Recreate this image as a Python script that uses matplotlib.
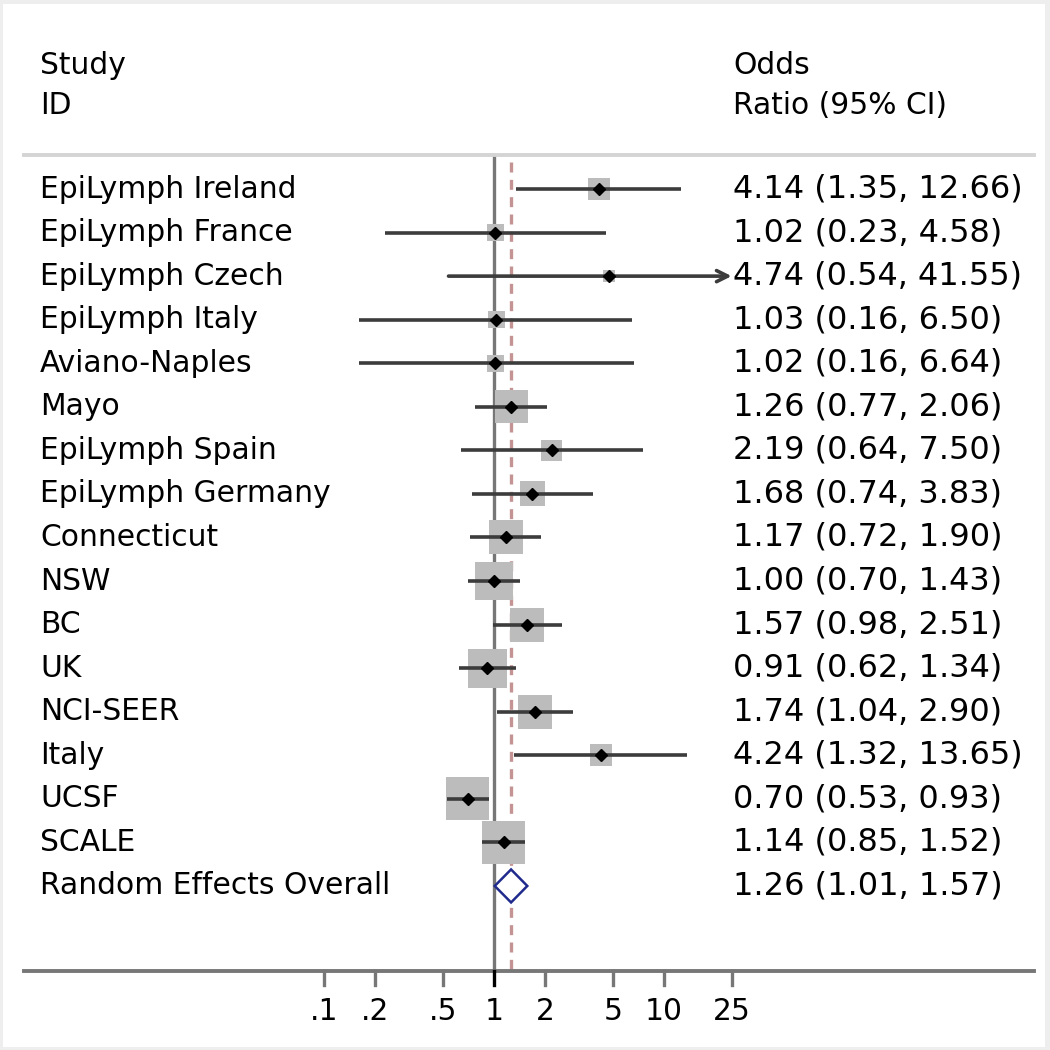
import matplotlib.pyplot as plt
import matplotlib.transforms as mtransforms
import numpy as np

# study data
studies = ["EpiLymph Ireland", "EpiLymph France", "EpiLymph Czech", "EpiLymph Italy",
           "Aviano-Naples", "Mayo", "EpiLymph Spain", "EpiLymph Germany", "Connecticut",
           "NSW", "BC", "UK", "NCI-SEER", "Italy", "UCSF", "SCALE"]
odds = [4.14, 1.02, 4.74, 1.03, 1.02, 1.26, 2.19, 1.68, 1.17, 1.00, 1.57, 0.91, 1.74, 4.24, 0.70, 1.14]
lower = [1.35, 0.23, 0.54, 0.16, 0.16, 0.77, 0.64, 0.74, 0.72, 0.70, 0.98, 0.62, 1.04, 1.32, 0.53, 0.85]
upper = [12.66, 4.58, 41.55, 6.50, 6.64, 2.06, 7.50, 3.83, 1.90, 1.43, 2.51, 1.34, 2.90, 13.65, 0.93, 1.52]
weights = [3.4, 2.0, 1.0, 2.0, 2.0, 7.6, 3.1, 4.4, 8.1, 10.1, 8.1, 10.7, 8.1, 3.4, 13.0, 13.0]

overall_label = "Random Effects Overall"
overall_or, overall_lo, overall_hi = 1.26, 1.01, 1.57

xticks = [0.1, 0.2, 0.5, 1, 2, 5, 10, 25]
xticklabels = [".1", ".2", ".5", "1", "2", "5", "10", "25"]
xmax_plot = 25

W = 1050
DPI = 100
fig = plt.figure(figsize=(W / DPI, W / DPI), dpi=DPI, facecolor="#eeeeee")

# white panel inset a few pixels
left_px, right_px, top_px, bot_px = 3, 1045, 4, 1047
ax = fig.add_axes([left_px / W, (W - bot_px) / W,
                   (right_px - left_px) / W, (bot_px - top_px) / W])
ax.set_facecolor("white")
for sp in ax.spines.values():
    sp.set_visible(False)
ax.tick_params(which="both", bottom=False, left=False, labelbottom=False, labelleft=False)

# pixel layout: x=1 at 494px, 170px per decade; first row at 189px, 43.56px per row
x0, dec = 494, 170
y0, step = 189, 43.56
ax.set_xscale("log")
ax.set_xlim(10 ** ((left_px - x0) / dec), 10 ** ((right_px - x0) / dec))
ax.set_ylim((bot_px - y0) / step, (top_px - y0) / step)
ax.minorticks_off()

def frac(px):
    return (px - left_px) / (right_px - left_px)

def row(px):
    return (px - y0) / step

FS = 21.4
FSV = 23.0
txt_tr = mtransforms.blended_transform_factory(ax.transAxes, ax.transData)

n = len(studies)
rows = np.arange(n)

# header
ax.text(frac(40), row(65), "Study", transform=txt_tr, fontsize=FS, va="center")
ax.text(frac(40), row(106), "ID", transform=txt_tr, fontsize=FS, va="center")
ax.text(frac(733), row(65), "Odds", transform=txt_tr, fontsize=FS, va="center")
ax.text(frac(733), row(106), "Ratio (95% CI)", transform=txt_tr, fontsize=FS, va="center")
ax.axhline(row(155), xmin=frac(24), xmax=frac(1034), color="#d4d4d4", lw=2.8)

axis_y = row(971)
# null line and overall effect line
ax.plot([1, 1], [row(155), axis_y], color="#777777", lw=2.4, zorder=1)
ax.plot([overall_or, overall_or], [row(162), axis_y], color="#c49494", lw=2.4,
        ls=(0, (3, 2.2)), zorder=1)

# study squares, CIs, points
side_px = 11.94 * np.sqrt(np.array(weights))
sizes = (side_px * 72 / DPI) ** 2
ax.scatter(odds, rows, s=sizes, marker="s", color="#bcbcbc", edgecolors="none", zorder=2)
for i in range(n):
    hi = min(upper[i], xmax_plot)
    if upper[i] > xmax_plot:
        ax.annotate("", xy=(hi, i), xytext=(lower[i], i),
                    arrowprops=dict(arrowstyle="->", color="#3c3c3c", lw=2.6,
                                    shrinkA=0, shrinkB=0, mutation_scale=20),
                    zorder=3)
    else:
        ax.plot([lower[i], hi], [i, i], color="#3c3c3c", lw=2.6, zorder=3,
                solid_capstyle="butt")
ax.plot(odds, rows, "D", color="black", ms=6.5, zorder=4)

# overall diamond
half_h = 16.5 / step
ax.fill([overall_lo, overall_or, overall_hi, overall_or],
        [n, n - half_h, n, n + half_h], facecolor="white",
        edgecolor="#1f2a8c", lw=1.8, zorder=4)

# labels
for i, name in enumerate(studies):
    ax.text(frac(40), i, name, transform=txt_tr, fontsize=FS, va="center")
    ax.text(frac(733), i, f"{odds[i]:.2f} ({lower[i]:.2f}, {upper[i]:.2f})",
            transform=txt_tr, fontsize=FSV, va="center")
ax.text(frac(40), n, overall_label, transform=txt_tr, fontsize=FS, va="center")
ax.text(frac(733), n, f"{overall_or:.2f} ({overall_lo:.2f}, {overall_hi:.2f})",
        transform=txt_tr, fontsize=FSV, va="center")

# x axis
ax.axhline(axis_y, xmin=frac(24), xmax=frac(1034), color="#777777", lw=2.8)
for t, lab in zip(xticks, xticklabels):
    ax.plot([t, t], [axis_y, row(985)], color="black" if t == 1 else "#777777", lw=2.4)
    ax.text(t, row(1012), lab, fontsize=FS, ha="center", va="center")

fig.savefig("out.png", dpi=DPI, facecolor=fig.get_facecolor())
